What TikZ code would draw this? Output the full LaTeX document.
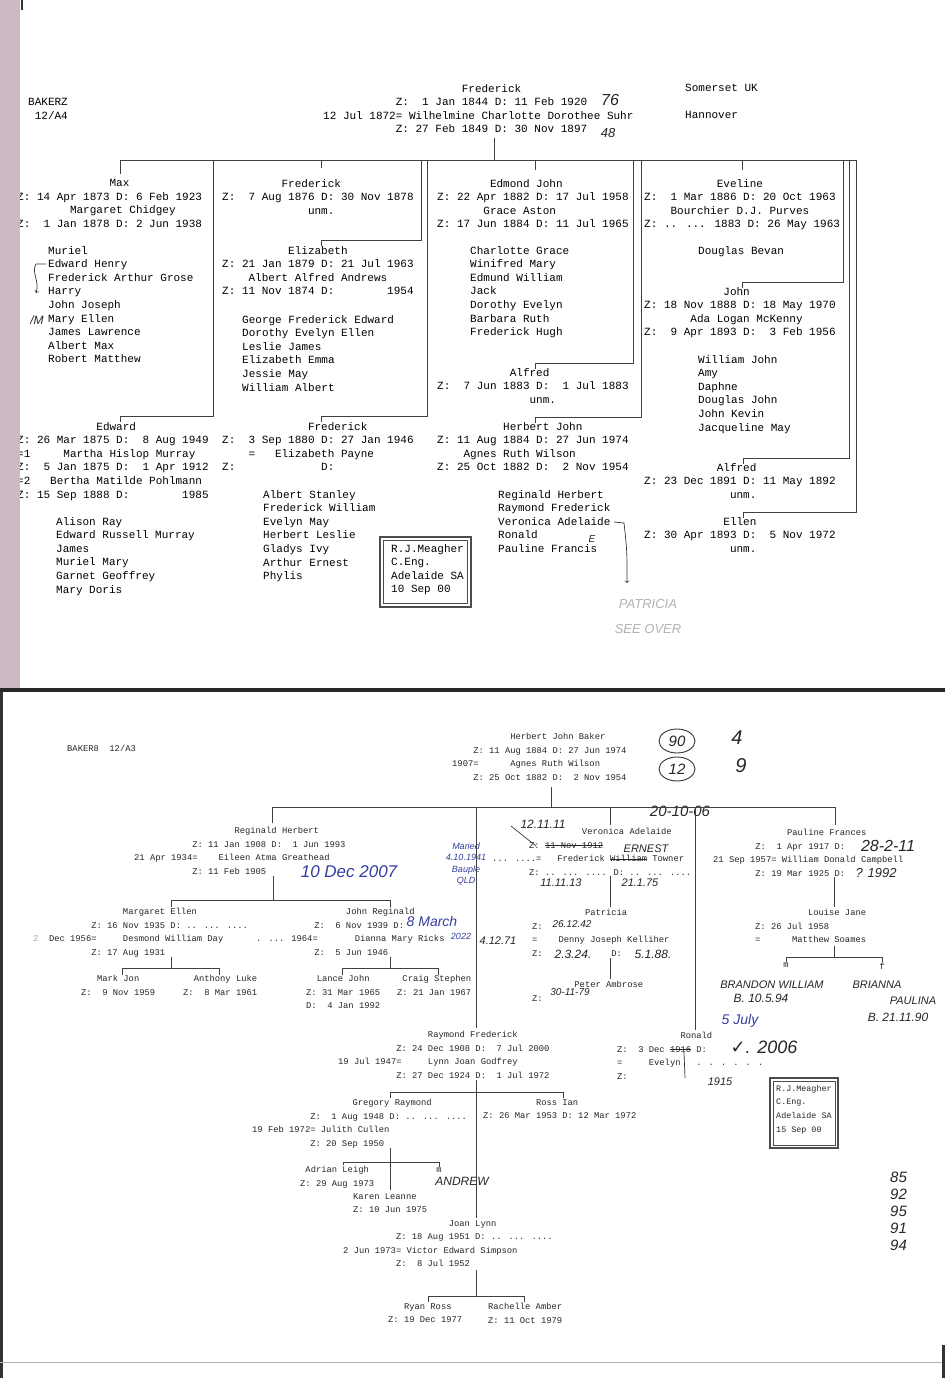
\documentclass[tikz,border=0pt]{standalone}
\usepackage{fontspec}
\newfontfamily\twmono{Liberation Mono}
\newfontfamily\handfont{Liberation Sans}
\newfontfamily\symfont{DejaVu Sans}
\definecolor{inkblue}{RGB}{52,62,160}
\definecolor{margin}{RGB}{203,186,196}
% blank typewriter columns
\newcommand\tcol[1]{\hbox to #1\fontcharwd\font`0{\hfil}}
% struck-out words
\newsavebox\strikebox
\newcommand\strike[1]{\sbox\strikebox{#1}\rlap{\rule[.55ex]{\wd\strikebox}{0.6pt}}\usebox\strikebox}
\tikzset{
  tw/.style={font=\twmono\fontsize{11}{13.6}\selectfont, align=left, inner sep=0pt, anchor=north west},
  tws/.style={font=\twmono\fontsize{8.8}{13.6}\selectfont, align=left, inner sep=0pt, anchor=north west, text=black!85},
  link/.style={draw=black!75, line width=0.8pt},
  hand/.style={font=\handfont\itshape\fontsize{#1}{#1}\selectfont, text=black!85, inner sep=0pt},
  hand/.default=12,
  ink/.style={hand=#1, text=inkblue},
  ink/.default=12,
  pen/.style={draw=black!80, line width=0.7pt},
}
\begin{document}
\begin{tikzpicture}[x=1pt,y=-1pt]
\useasboundingbox (0,0) rectangle (945,1378);
\fill[white] (0,0) rectangle (945,1378);

% ---------- sheet 12/A4 ----------
\node[tw] (hdrtop) at (28,98) {BAKERZ\\\tcol{1}12/A4};
\node[tw] (frederick) at (323,84) {\tcol{21}Frederick\\
\tcol{11}Z:~~1 Jan 1844 D: 11 Feb 1920\\
12 Jul 1872= Wilhelmine Charlotte Dorothee Suhr\\
\tcol{11}Z: 27 Feb 1849 D: 30 Nov 1897};
\node[tw] (place) at (685,84) {Somerset UK\\~\\Hannover};
\node[hand=16] (hw76) at (610,100) {76};
\node[hand=13] (hw48) at (608,133) {48};

\node[tw] (max) at (17,179) {\tcol{14}Max\\
Z: 14 Apr 1873 D: 6 Feb 1923\\
\tcol{8}Margaret Chidgey\\
Z:~~1 Jan 1878 D: 2 Jun 1938};
\node[tw] (maxkids) at (48,246) {Muriel\\Edward Henry\\Frederick Arthur Grose\\Harry\\John Joseph\\Mary Ellen\\James Lawrence\\Albert Max\\Robert Matthew};
\node[tw] (edward) at (17,422) {\tcol{12}Edward\\
Z: 26 Mar 1875 D:~~8 Aug 1949\\
=1\tcol{5}Martha Hislop Murray\\
Z:~~5 Jan 1875 D:~~1 Apr 1912\\
=2\tcol{3}Bertha Matilde Pohlmann\\
Z: 15 Sep 1888 D:\tcol{8}1985};
\node[tw] (edwardkids) at (56,517) {Alison Ray\\Edward Russell Murray\\James\\Muriel Mary\\Garnet Geoffrey\\Mary Doris};

\node[tw] (fred76) at (222,179) {\tcol{9}Frederick\\
Z:~~7 Aug 1876 D: 30 Nov 1878\\
\tcol{13}unm.};
\node[tw] (elizabeth) at (222,246) {\tcol{10}Elizabeth\\
Z: 21 Jan 1879 D: 21 Jul 1963\\
\tcol{4}Albert Alfred Andrews\\
Z: 11 Nov 1874 D:\tcol{8}1954};
\node[tw] (elizkids) at (242,315) {George Frederick Edward\\Dorothy Evelyn Ellen\\Leslie James\\Elizabeth Emma\\Jessie May\\William Albert};
\node[tw] (fred80) at (222,422) {\tcol{13}Frederick\\
Z:~~3 Sep 1880 D: 27 Jan 1946\\
\tcol{4}=\tcol{3}Elizabeth Payne\\
Z:\tcol{13}D:};
\node[tw] (fred80kids) at (263,490) {Albert Stanley\\Frederick William\\Evelyn May\\Herbert Leslie\\Gladys Ivy\\Arthur Ernest\\Phylis};

\node[tw] (edmond) at (437,179) {\tcol{8}Edmond John\\
Z: 22 Apr 1882 D: 17 Jul 1958\\
\tcol{7}Grace Aston\\
Z: 17 Jun 1884 D: 11 Jul 1965};
\node[tw] (edmondkids) at (470,246) {Charlotte Grace\\Winifred Mary\\Edmund William\\Jack\\Dorothy Evelyn\\Barbara Ruth\\Frederick Hugh};
\node[tw] (alfred83) at (437,368) {\tcol{11}Alfred\\
Z:~~7 Jun 1883 D:~~1 Jul 1883\\
\tcol{14}unm.};
\node[tw] (herbert) at (437,422) {\tcol{10}Herbert John\\
Z: 11 Aug 1884 D: 27 Jun 1974\\
\tcol{4}Agnes Ruth Wilson\\
Z: 25 Oct 1882 D:~~2 Nov 1954};
\node[tw] (herbertkids) at (498,490) {Reginald Herbert\\Raymond Frederick\\Veronica Adelaide\\Ronald\\Pauline Francis};

\node[tw] (eveline) at (644,179) {\tcol{11}Eveline\\
Z:~~1 Mar 1886 D: 20 Oct 1963\\
\tcol{4}Bourchier D.J. Purves\\
Z: .. ... 1883 D: 26 May 1963};
\node[tw] (evelinekids) at (698,246) {Douglas Bevan};
\node[tw] (john) at (644,287) {\tcol{12}John\\
Z: 18 Nov 1888 D: 18 May 1970\\
\tcol{7}Ada Logan McKenny\\
Z:~~9 Apr 1893 D:~~3 Feb 1956};
\node[tw] (johnkids) at (698,355) {William John\\Amy\\Daphne\\Douglas John\\John Kevin\\Jacqueline May};
\node[tw] (alfred91) at (644,463) {\tcol{11}Alfred\\
Z: 23 Dec 1891 D: 11 May 1892\\
\tcol{13}unm.};
\node[tw] (ellen) at (644,517) {\tcol{12}Ellen\\
Z: 30 Apr 1893 D:~~5 Nov 1972\\
\tcol{13}unm.};

\draw[black!70, line width=1.2pt] (380,537) rectangle (471,607);
\draw[black!70] (383.5,540.5) rectangle (467.5,603.5);
\node[tw] (stamptop) at (391,544) {R.J.Meagher\\C.Eng.\\Adelaide SA\\10 Sep 00};

% family lines
\draw[link] (494,138) -- (494,160);
\draw[link] (120,160) -- (857,160);
\foreach \x/\e in {120/174,321/168,535/170,742/170}
  \draw[link] (\x,160) -- (\x,\e);
\foreach \r/\y/\c in {213/416/120, 421/240/321, 427/416/321, 633/363/535,
                      641/417/535, 843/282/742, 849/458/743, 856/512/743}
  \draw[link] (\r,160) |- (\c,\y) -- ++(0,6);

% pencil notes
\draw[pen,->] (46,264) -- (36,264) .. controls (31,272) and (40,282) .. (36,293);
\node[hand=12] (hwm) at (37,320) {/M};
\node[hand=10] (hwe) at (592,539) {E};
\draw[pen,->] (614,522) -- (624,523) .. controls (627,550) .. (627,583);
\node[hand=13, text=black!30] (hwpat) at (648,604) {PATRICIA};
\node[hand=13, text=black!30] (hwsee) at (648,629) {SEE OVER};

% sheet edges
\fill[margin] (0,0) rectangle (20,688);
\fill[black!80] (21,0) rectangle (23,10);
\fill[black!85] (0,688) rectangle (945,692);

% ---------- sheet 12/A3 ----------
\fill[black!80] (0,692) rectangle (2.5,1378);
\draw[black!30, line width=1pt] (0,1362) -- (945,1362);
\fill[black!80] (942,1345) rectangle (945,1378);

\node[tws] (hdrbot) at (67,745) {BAKER8\tcol{2}12/A3};
\node[tws] (hjb) at (452,733) {\tcol{11}Herbert John Baker\\
\tcol{4}Z: 11 Aug 1884 D: 27 Jun 1974\\
1907=\tcol{6}Agnes Ruth Wilson\\
\tcol{4}Z: 25 Oct 1882 D:~~2 Nov 1954};
\draw[pen, line width=0.9pt] (677,741) ellipse [x radius=18pt, y radius=12pt];
\node[hand=15] (hw90) at (677,741) {90};
\node[hand=20] (hw4) at (737,738) {4};
\draw[pen, line width=0.9pt] (677,769) ellipse [x radius=18pt, y radius=12pt];
\node[hand=15] (hw12) at (677,769) {12};
\node[hand=20] (hw9) at (741,766) {9};

\node[tws] (reginald) at (134,827) {\tcol{19}Reginald Herbert\\
\tcol{11}Z: 11 Jan 1908 D:~~1 Jun 1993\\
21 Apr 1934=\tcol{4}Eileen Atma Greathead\\
\tcol{11}Z: 11 Feb 1905};
\node[ink=17] (hwdec) at (349,872) {10 Dec 2007};

\node[tws] (margaret) at (33,908) {\tcol{17}Margaret Ellen\\
\tcol{11}Z: 16 Nov 1935 D: .. ... ....\\
{\color{black!35}2}\tcol{2}Dec 1956=\tcol{5}Desmond William Day\\
\tcol{11}Z: 17 Aug 1931};
\node[tws] (johnreg) at (256,908) {\tcol{17}John Reginald\\
\tcol{11}Z:~~6 Nov 1939 D:\\
. ... 1964=\tcol{7}Dianna Mary Ricks\\
\tcol{11}Z:~~5 Jun 1946};
\node[ink=14] (hwmarch) at (432,921) {8 March};
\node[ink=9] (hw2022) at (461,936) {2022};
\node[hand=11] (hw4127) at (498,941) {4.12.71};

\node[tws] (mark) at (81,975) {\tcol{3}Mark Jon\\Z:~~9 Nov 1959};
\node[tws] (anthony) at (183,975) {\tcol{2}Anthony Luke\\Z:~~8 Mar 1961};
\node[tws] (lance) at (306,975) {\tcol{2}Lance John\\Z: 31 Mar 1965\\D:~~4 Jan 1992};
\node[tws] (craig) at (397,975) {\tcol{1}Craig Stephen\\Z: 21 Jan 1967};

\node[tws] (veronica) at (492,828) {\tcol{17}Veronica Adelaide\\
\tcol{7}Z: \strike{11 Nov 1912}\\
... ....=\tcol{3}Frederick \strike{William} Towner\\
\tcol{7}Z: .. ... .... D: .. ... ....};
\node[hand=12] (hw1211) at (543,824) {12.11.11};
\draw[pen] (511,826) -- (536,846);
\node[hand=15] (hw2010) at (680,811) {20-10-06};
\node[hand=11] (hwernest) at (646,849) {ERNEST};
\node[ink, align=center, font=\handfont\itshape\fontsize{9}{11.5}\selectfont] (hwmarried) at (466,864) {Maried\\4.10.1941\\Bauple\\QLD};
\node[hand=11] (hw1111) at (561,883) {11.11.13};
\node[hand=11] (hw2117) at (640,883) {21.1.75};

\node[tws] (patricia) at (532,909) {\tcol{10}Patricia\\
Z:\\
=\tcol{4}Denny Joseph Kelliher\\
Z:\tcol{13}D:};
\node[hand=10] (hw2612) at (572,924) {26.12.42};
\node[hand=12] (hw2324) at (573,954) {2.3.24.};
\node[hand=12] (hw5188) at (653,954) {5.1.88.};
\node[tws] (peter) at (532,981) {\tcol{8}Peter Ambrose\\Z:};
\node[hand=10] (hw3011) at (570,992) {30-11-79};

\node[tws] (pauline) at (713,829) {\tcol{14}Pauline Frances\\
\tcol{8}Z:~~1 Apr 1917 D:\\
21 Sep 1957= William Donald Campbell\\
\tcol{8}Z: 19 Mar 1925 D:};
\node[hand=16] (hw2822) at (888,846) {28-2-11};
\node[hand=13] (hw1992) at (876,873) {? 1992};
\node[tws] (louise) at (755,909) {\tcol{10}Louise Jane\\
Z: 26 Jul 1958\\
=\tcol{6}Matthew Soames};
\node[tws, anchor=north] (boy) at (786,963) {m};
\node[tws, anchor=north] (girl) at (882,963) {f};
\node[hand=11] (hwbrandon) at (772,985) {BRANDON WILLIAM};
\node[hand=12] (hwb1) at (761,998) {B. 10.5.94};
\node[hand=11] (hwbrianna) at (877,985) {BRIANNA};
\node[hand=11] (hwpaulina) at (913,1001) {PAULINA};
\node[hand=12] (hwb2) at (898,1017) {B. 21.11.90};

\node[tws] (raymond) at (338,1031) {\tcol{17}Raymond Frederick\\
\tcol{11}Z: 24 Dec 1908 D:~~7 Jul 2000\\
19 Jul 1947=\tcol{5}Lynn Joan Godfrey\\
\tcol{11}Z: 27 Dec 1924 D:~~1 Jul 1972};
\node[tws] (ronald) at (617,1032) {\tcol{12}Ronald\\
Z:~~3 Dec \strike{1916} D:\\
=\tcol{5}Evelyn\tcol{3}. . . . . .\\
Z:};
\node[ink=14] (hwjuly) at (740,1021) {5 July};
\node[hand=18] (hw2006) at (764,1047) {{\symfont\char"2713}. 2006};
\node[hand=11] (hw1915) at (720,1082) {1915};
\draw[pen] (684,1052) -- (685,1078);

\draw[black!70, line width=1.2pt] (770,1078) rectangle (838,1148);
\draw[black!70] (773,1081) rectangle (835,1145);
\node[tws, font=\twmono\fontsize{8.4}{13.6}\selectfont] (stampbot) at (776,1085) {R.J.Meagher\\C.Eng.\\Adelaide SA\\15 Sep 00};

\node[tws] (gregory) at (252,1099) {\tcol{19}Gregory Raymond\\
\tcol{11}Z:~~1 Aug 1948 D: .. ... ....\\
19 Feb 1972= Julith Cullen\\
\tcol{11}Z: 20 Sep 1950};
\node[tws] (ross) at (483,1099) {\tcol{10}Ross Ian\\Z: 26 Mar 1953 D: 12 Mar 1972};
\node[tws] (adrian) at (300,1166) {\tcol{1}Adrian Leigh\\Z: 29 Aug 1973};
\node[tws, anchor=north] (boy2) at (439,1168) {m};
\node[hand=12] (hwandrew) at (462,1181) {ANDREW};
\node[tws] (karen) at (353,1193) {Karen Leanne\\Z: 10 Jun 1975};
\node[tws] (joan) at (343,1220) {\tcol{20}Joan Lynn\\
\tcol{10}Z: 18 Aug 1951 D: .. ... ....\\
2 Jun 1973= Victor Edward Simpson\\
\tcol{10}Z:~~8 Jul 1952};
\node[tws] (ryan) at (388,1303) {\tcol{3}Ryan Ross\\Z: 19 Dec 1977};
\node[tws] (rachelle) at (488,1303) {Rachelle Amber\\Z: 11 Oct 1979};
\node[hand=15, align=left, font=\handfont\itshape\fontsize{15}{17}\selectfont, anchor=north west] (hwsums) at (890,1172) {85\\92\\95\\91\\94};

% family lines
\draw[link] (551,787) -- (551,807);
\draw[link] (272,807) -- (835,807);
\foreach \x/\e in {272/823,610/825,835/825,476/1028,695/1030}
  \draw[link] (\x,807) -- (\x,\e);
\draw[link] (273,876) -- (273,900);
\draw[link] (171,907) |- (390,900) -- (390,907);
\draw[link] (171,957) -- (171,968);
\draw[link] (122,975) |- (219,968) -- (219,975);
\draw[link] (390,957) -- (390,968);
\draw[link] (342,975) |- (438,968) -- (438,975);
\draw[link] (610,876) -- (610,907);
\draw[link] (610,958) -- (610,979);
\draw[link] (834,877) -- (834,907);
\draw[link] (834,946) -- (834,957);
\draw[link] (786,962) |- (882,957) -- (882,962);
\draw[link] (476,1080) -- (476,1218);
\draw[link] (390,1098) |- (563,1092) -- (563,1098);
\draw[link] (390,1148) -- (390,1190);
\draw[link] (343,1165) |- (439,1162) -- (439,1167);
\draw[link] (476,1270) -- (476,1296);
\draw[link] (428,1302) |- (524,1296) -- (524,1302);
\end{tikzpicture}
\end{document}
